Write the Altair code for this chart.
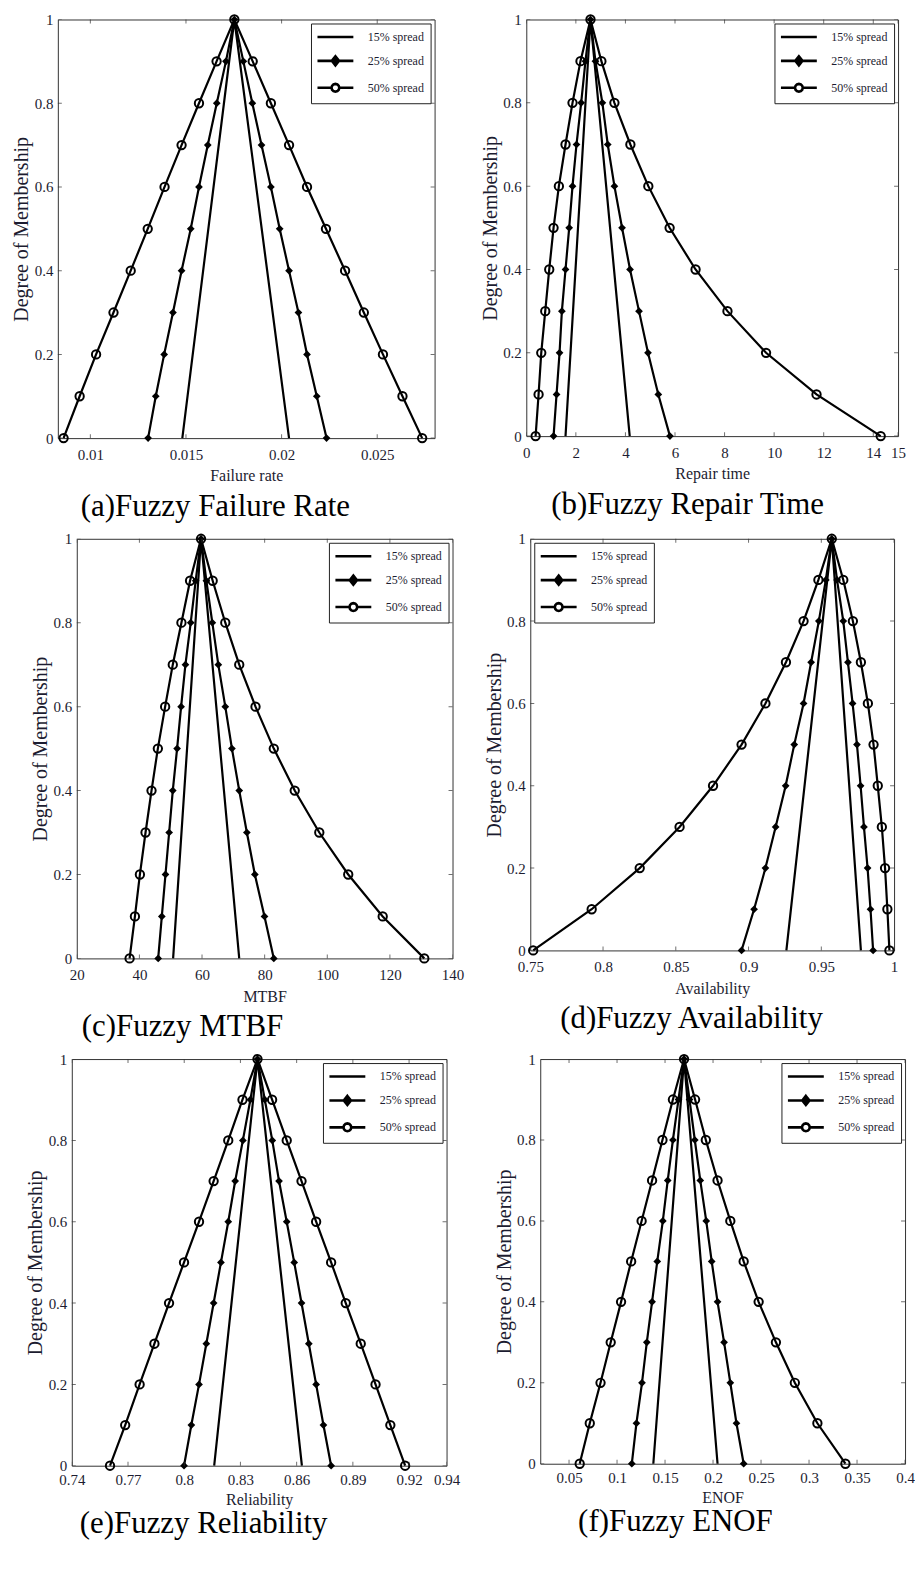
import altair as alt
import pandas as pd

# ---------------- data ----------------
SERIES = ["15% spread", "25% spread", "50% spread"]
MU21 = [0, 0.1, 0.2, 0.3, 0.4, 0.5, 0.6, 0.7, 0.8, 0.9, 1.0,
        0.9, 0.8, 0.7, 0.6, 0.5, 0.4, 0.3, 0.2, 0.1, 0]
MU3 = [0, 1.0, 0]
Y_TICKS = [0, 0.2, 0.4, 0.6, 0.8, 1.0]

# (a) Failure rate
a_15 = [0.01481, 0.01753, 0.02039]
a_25 = [0.01302, 0.01342, 0.01386, 0.01432, 0.01477, 0.01525, 0.01568, 0.01614, 0.01661, 0.01709, 0.01753,
        0.01800, 0.01847, 0.01895, 0.01944, 0.01990, 0.02039, 0.02088, 0.02133, 0.02184, 0.02235]
a_50 = [0.00860, 0.00944, 0.01030, 0.01121, 0.01211, 0.01300, 0.01388, 0.01477, 0.01568, 0.01660, 0.01753,
        0.01849, 0.01944, 0.02039, 0.02133, 0.02232, 0.02332, 0.02430, 0.02530, 0.02632, 0.02735]
a_domain = [0.0083, 0.028]
a_ticks = [0.01, 0.015, 0.02, 0.025]

# (b) Repair time
b_15 = [1.583, 2.59, 4.173]
b_25 = [1.10, 1.221, 1.342, 1.436, 1.583, 1.731, 1.865, 2.026, 2.214, 2.388, 2.59,
        2.79, 3.07, 3.287, 3.556, 3.864, 4.186, 4.548, 4.911, 5.327, 5.796]
b_50 = [0.376, 0.496, 0.604, 0.765, 0.926, 1.10, 1.315, 1.583, 1.865, 2.187, 2.59,
        3.03, 3.556, 4.2, 4.924, 5.783, 6.83, 8.117, 9.674, 11.71, 14.30]
b_domain = [0, 15]
b_ticks = [0, 2, 4, 6, 8, 10, 12, 14, 15]

# (c) MTBF
c_15 = [50.77, 59.68, 71.88]
c_25 = [46.0, 47.16, 48.33, 49.5, 50.66, 52.04, 53.32, 54.7, 56.39, 57.98, 59.68,
        61.38, 63.29, 65.2, 67.43, 69.55, 71.88, 74.32, 76.87, 79.95, 82.92]
c_50 = [36.87, 38.57, 40.16, 41.96, 43.87, 45.89, 48.22, 50.66, 53.42, 56.18, 59.68,
        63.4, 67.43, 71.88, 77.08, 82.92, 89.6, 97.45, 106.69, 117.7, 130.98]
c_domain = [20, 140]
c_ticks = [20, 40, 60, 80, 100, 120, 140]

# (d) Availability
d_15 = [0.926, 0.9572, 0.9772]
d_25 = [0.8952, 0.9038, 0.9116, 0.9186, 0.9255, 0.9314, 0.9378, 0.943, 0.9483, 0.9531, 0.9572,
        0.9608, 0.9651, 0.9683, 0.9715, 0.9745, 0.977, 0.9793, 0.9818, 0.9838, 0.9856]
d_50 = [0.752, 0.7922, 0.8252, 0.8526, 0.8756, 0.8952, 0.9116, 0.9257, 0.9378, 0.948, 0.9572,
        0.9651, 0.9717, 0.9772, 0.982, 0.9859, 0.9888, 0.9916, 0.9938, 0.9954, 0.9968]
d_domain = [0.75, 1.0]
d_ticks = [0.75, 0.8, 0.85, 0.9, 0.95, 1.0]

# (e) Reliability
e_15 = [0.816, 0.8391, 0.8628]
e_25 = [0.7999, 0.8038, 0.8079, 0.8118, 0.8157, 0.8196, 0.8235, 0.8272, 0.8313, 0.8353, 0.8391,
        0.843, 0.847, 0.8506, 0.8547, 0.8587, 0.8626, 0.8665, 0.8704, 0.8743, 0.8784]
e_50 = [0.7604, 0.7685, 0.7762, 0.7841, 0.7919, 0.7999, 0.8079, 0.8157, 0.8235, 0.8311, 0.8391,
        0.8469, 0.8547, 0.8626, 0.8704, 0.8784, 0.8862, 0.8942, 0.9021, 0.91, 0.9179]
e_domain = [0.74, 0.94]
e_ticks = [0.74, 0.77, 0.8, 0.83, 0.86, 0.89, 0.92, 0.94]

# (f) ENOF
f_15 = [0.1378, 0.1698, 0.2047]
f_25 = [0.1154, 0.1202, 0.126, 0.131, 0.1365, 0.1419, 0.1477, 0.1528, 0.1582, 0.164, 0.1698,
        0.1755, 0.181, 0.1867, 0.1929, 0.1986, 0.2047, 0.2115, 0.218, 0.2244, 0.2319]
f_50 = [0.0611, 0.0716, 0.0828, 0.0934, 0.1042, 0.1147, 0.1256, 0.1365, 0.1473, 0.1582, 0.1698,
        0.1813, 0.1925, 0.2047, 0.218, 0.2319, 0.2475, 0.2655, 0.2852, 0.3087, 0.3379]
f_domain = [0.02, 0.4]
f_ticks = [0.05, 0.1, 0.15, 0.2, 0.25, 0.3, 0.35, 0.4]

# ---------------- style ----------------
SERIF = "Liberation Serif"
TXT = "#1c1c30"
# legend symbols: line + marker (unit = sqrt(symbolSize)/2 px), polygons only
SYM_PATHS = [
    "M-3,0H3",
    "M-3,0H3M0,-0.75L0.6,0L0,0.75L-0.6,0Z",
    "M-3,0H-0.65M0.65,0H3"
    "M0.65,0L0.56,0.33L0.33,0.56L0,0.65L-0.33,0.56L-0.56,0.33L-0.65,0"
    "L-0.56,-0.33L-0.33,-0.56L0,-0.65L0.33,-0.56L0.56,-0.33Z",
]
SYM_FILLS = ["black", "black", "white"]
SYM_STROKES = ["black", "black", "black"]


def panel(x15, x25, x50, xdomain, xticks, xtitle, caption, w, h, legend_orient, cap_dx,
          cap_off=8, xlp=9, xtp=6):
    rows = []
    for name, xs, ys in [(SERIES[0], x15, MU3), (SERIES[1], x25, MU21), (SERIES[2], x50, MU21)]:
        for i, (xv, yv) in enumerate(zip(xs, ys)):
            rows.append({"series": name, "x": xv, "y": yv, "idx": i})
    df = pd.DataFrame(rows)

    xs = alt.Scale(domain=xdomain, nice=False, zero=False)
    ys = alt.Scale(domain=[0, 1], nice=False, zero=False)
    X = alt.X("x:Q", scale=xs,
              axis=alt.Axis(values=xticks, title=xtitle, format=".12~g", labelPadding=xlp,
                            titlePadding=xtp, titleFontSize=16, labelFlush=False))
    Y = alt.Y("y:Q", scale=ys,
              axis=alt.Axis(values=Y_TICKS, title="Degree of Membership", format=".12~g",
                            labelPadding=5, minExtent=24, maxExtent=24, titlePadding=2,
                            titleFontSize=20, labelFlush=False))

    base = alt.Chart(df)
    lines = base.mark_line(color="black", strokeWidth=2.2).encode(
        x=X, y=Y, detail="series:N", order="idx:Q")
    p25 = base.transform_filter(alt.datum.series == SERIES[1]).mark_point(
        shape="diamond", filled=True, size=60, color="black", opacity=1).encode(x=X, y=Y)
    p50 = base.transform_filter(alt.datum.series == SERIES[2]).mark_point(
        shape="circle", filled=False, size=70, strokeWidth=2, color="black", opacity=1).encode(x=X, y=Y)

    leg_df = pd.DataFrame({"series": SERIES, "x": [x15[1], x25[10], x50[10]], "y": [1.0, 1.0, 1.0]})
    L = alt.Legend(title=None, orient=legend_orient, offset=4, padding=6, rowPadding=7,
                   strokeColor="#222", fillColor="white",
                   labelFont=SERIF, labelFontSize=12, labelColor=TXT,
                   symbolSize=144, symbolStrokeWidth=2.6,
                   symbolOpacity=1, symbolOffset=11, labelOffset=25)
    leg = alt.Chart(leg_df).mark_point(opacity=0, size=1).encode(
        x=X, y=Y,
        fill=alt.Fill("series:N", scale=alt.Scale(domain=SERIES, range=SYM_FILLS), legend=L),
        stroke=alt.Stroke("series:N", scale=alt.Scale(domain=SERIES, range=SYM_STROKES), legend=L),
        shape=alt.Shape("series:N", scale=alt.Scale(domain=SERIES, range=SYM_PATHS), legend=L),
    )

    # inner tick marks (MATLAB style box ticks)
    xt = pd.DataFrame({"x": xticks})
    yt = pd.DataFrame({"y": Y_TICKS})
    tk = dict(color="#333", thickness=1, size=8, clip=True)
    xb = alt.Chart(xt).mark_tick(orient="vertical", **tk).encode(x=X, y=alt.datum(0))
    xtop = alt.Chart(xt).mark_tick(orient="vertical", **tk).encode(x=X, y=alt.datum(1))
    yl = alt.Chart(yt).mark_tick(orient="horizontal", **tk).encode(y=Y, x=alt.datum(xdomain[0]))
    yr = alt.Chart(yt).mark_tick(orient="horizontal", **tk).encode(y=Y, x=alt.datum(xdomain[1]))

    return alt.layer(lines, p25, p50, leg, xb, xtop, yl, yr).properties(
        width=w, height=h,
        title=alt.TitleParams(caption, orient="bottom", anchor="start", frame="group",
                              dx=cap_dx, offset=cap_off, fontSize=31, font=SERIF,
                              fontWeight="normal", color="black"),
    )


def indep(c):
    return c.resolve_scale(x="independent", y="independent", shape="independent",
                           fill="independent", stroke="independent").resolve_legend(
        shape="independent", fill="independent", stroke="independent")


def spacer(wd):
    sdf = pd.DataFrame({"s": [0]})
    return alt.Chart(sdf).mark_point(opacity=0, size=1).encode(
        x=alt.X("s:Q", axis=None), y=alt.Y("s:Q", axis=None)
    ).properties(width=wd, height=2, view=alt.ViewBackground(stroke="transparent"))


pa = panel(a_15, a_25, a_50, a_domain, a_ticks, "Failure rate", "(a)Fuzzy Failure Rate", 378, 420, "top-right", 23)
pb = panel(b_15, b_25, b_50, b_domain, b_ticks, "Repair time", "(b)Fuzzy Repair Time", 373, 418, "top-right", 25)
pc = panel(c_15, c_25, c_50, c_domain, c_ticks, "MTBF", "(c)Fuzzy MTBF", 377, 421, "top-right", 5)
pd_ = panel(d_15, d_25, d_50, d_domain, d_ticks, "Availability", "(d)Fuzzy Availability", 365, 413, "top-left", 30)
pe = panel(e_15, e_25, e_50, e_domain, e_ticks, "Reliability", "(e)Fuzzy Reliability", 376, 408, "top-right", 8,
           cap_off=2, xlp=7, xtp=4)
pf = panel(f_15, f_25, f_50, f_domain, f_ticks, "ENOF", "(f)Fuzzy ENOF", 366, 406, "top-right", 38,
           cap_off=2, xlp=7, xtp=4)

row1 = indep(alt.hconcat(spacer(1), indep(alt.hconcat(pa, pb, spacing=44)), spacing=0))
row2 = indep(alt.hconcat(spacer(20), indep(alt.hconcat(pc, pd_, spacing=19)), spacing=0))
row3 = indep(alt.hconcat(spacer(15), indep(alt.hconcat(pe, pf, spacing=33)), spacing=0))

chart = indep(alt.vconcat(row1, row2, row3, spacing=7)).properties(padding=0).configure_view(
    stroke="#333", strokeWidth=1
).configure_axis(
    grid=False, ticks=False, domain=False,
    labelFont=SERIF, titleFont=SERIF, labelFontSize=15, titleFontWeight="normal",
    labelColor=TXT, titleColor=TXT,
)

chart.save("out.html", embed_options={"renderer": "svg", "actions": False})
